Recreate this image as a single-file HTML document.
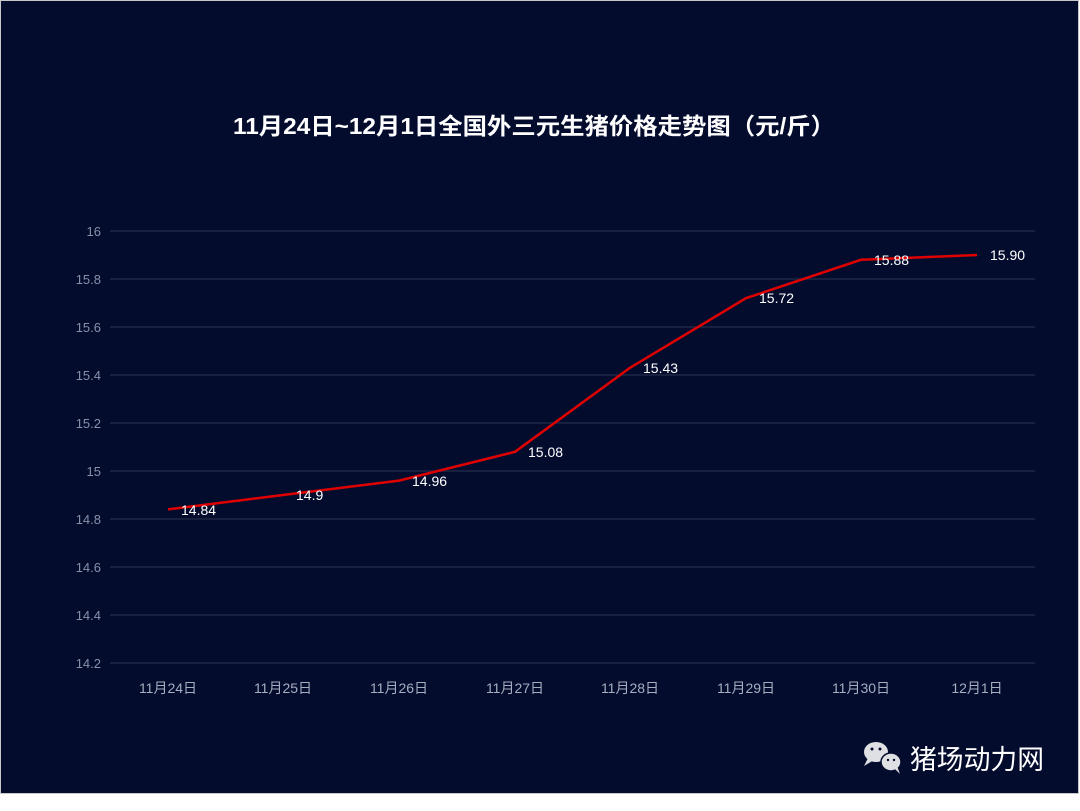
<!DOCTYPE html>
<html><head><meta charset="utf-8"><style>
body{margin:0;width:1080px;height:806px;background:#fff;overflow:hidden}
</style></head><body>
<svg width="1080" height="806" xmlns="http://www.w3.org/2000/svg" font-family="Liberation Sans, Noto Sans CJK SC, sans-serif">
<rect x="0.5" y="0.5" width="1078" height="793" fill="#040c2e" stroke="#c8c8c8"/>
<text x="534" y="134" fill="#fff" font-size="23" font-weight="bold" text-anchor="middle" textLength="602" lengthAdjust="spacingAndGlyphs">11月24日~12月1日全国外三元生猪价格走势图（元/斤）</text>
<g stroke="#1e2746" stroke-width="1.5">
<line x1="110" x2="1035" y1="231" y2="231"/><line x1="110" x2="1035" y1="279" y2="279"/>
<line x1="110" x2="1035" y1="327" y2="327"/><line x1="110" x2="1035" y1="375" y2="375"/>
<line x1="110" x2="1035" y1="423" y2="423"/><line x1="110" x2="1035" y1="471" y2="471"/>
<line x1="110" x2="1035" y1="519" y2="519"/><line x1="110" x2="1035" y1="567" y2="567"/>
<line x1="110" x2="1035" y1="615" y2="615"/><line x1="110" x2="1035" y1="663" y2="663"/>
</g>
<g fill="#8a90a8" font-size="13" text-anchor="end">
<text x="101" y="236">16</text><text x="101" y="284">15.8</text><text x="101" y="332">15.6</text>
<text x="101" y="380">15.4</text><text x="101" y="428">15.2</text><text x="101" y="476">15</text>
<text x="101" y="524">14.8</text><text x="101" y="572">14.6</text><text x="101" y="620">14.4</text>
<text x="101" y="668">14.2</text>
</g>
<g fill="#a8adc0" font-size="14" text-anchor="middle">
<text x="168" y="693">11月24日</text><text x="283" y="693">11月25日</text><text x="399" y="693">11月26日</text>
<text x="515" y="693">11月27日</text><text x="630" y="693">11月28日</text><text x="746" y="693">11月29日</text>
<text x="861" y="693">11月30日</text><text x="977" y="693">12月1日</text>
</g>
<polyline fill="none" stroke="#e00000" stroke-width="2.5" points="168,509.4 283,495 399,480.6 515,451.8 630,367.8 746,298.2 861,259.8 977,255"/>
<g fill="#fff" font-size="14">
<text x="181" y="515">14.84</text><text x="296" y="500">14.9</text><text x="412" y="486">14.96</text>
<text x="528" y="457">15.08</text><text x="643" y="373">15.43</text><text x="759" y="303">15.72</text>
<text x="874" y="265">15.88</text><text x="990" y="260">15.90</text>
</g>
<g fill="#dfe0e4">
<ellipse cx="876" cy="752" rx="12" ry="10"/><path d="M868 758 L864 766 L874 760 Z"/>
<ellipse cx="891" cy="762" rx="10" ry="9" stroke="#040c2e" stroke-width="1.5"/><path d="M894 768 L900 774 L897 766 Z"/>
</g>
<g fill="#040c2e"><circle cx="872" cy="749" r="1.5"/><circle cx="880" cy="749" r="1.5"/><circle cx="888" cy="760" r="1.2"/><circle cx="894" cy="760" r="1.2"/></g>
<text x="910" y="769" fill="#fff" font-size="27" textLength="134" lengthAdjust="spacingAndGlyphs">猪场动力网</text>
</svg>
</body></html>
